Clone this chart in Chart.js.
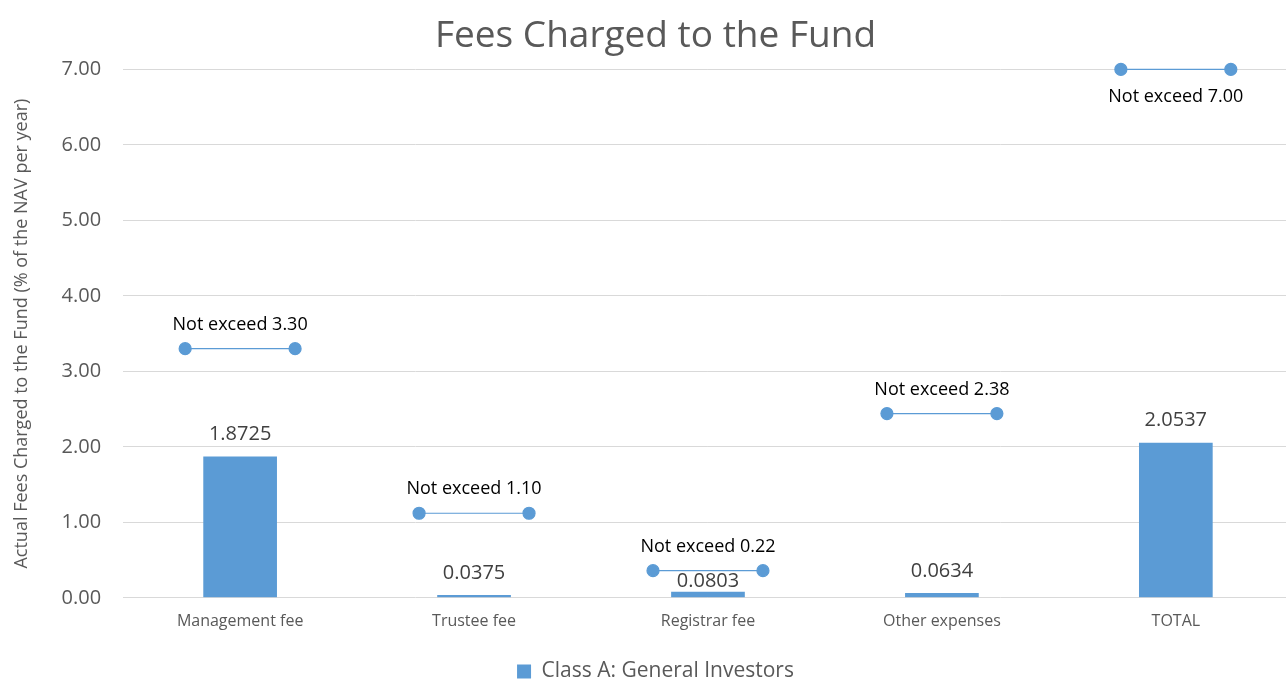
<!DOCTYPE html>
<html>
<head>
<meta charset="utf-8">
<title>Fees Charged to the Fund</title>
<script src="https://cdn.jsdelivr.net/npm/chart.js@4"></script>
<style>
    html, body { margin: 0; padding: 0; background: #fff; overflow: hidden; }
    #wrap { width: 1300px; height: 692px; }
</style>
</head>
<body>
<div id="wrap"><canvas id="feeChart"></canvas></div>
<script>
// Chart data
const categories = ['Management fee', 'Trustee fee', 'Registrar fee', 'Other expenses', 'TOTAL'];
const actualFees = [1.8725, 0.0375, 0.0803, 0.0634, 2.0537];
// where the cap markers sit in the picture, and what their labels say
const capLevels = [3.30, 1.12, 0.36, 2.44, 7.00];
const capLabels = ['3.30', '1.10', '0.22', '2.38', '7.00'];
const yTicks = [0, 1, 2, 3, 4, 5, 6, 7];

const BLUE = '#5B9BD5';
const GREY = '#595959';
const FONT = "'Open Sans', 'Noto Sans', sans-serif";

// each cap is a short horizontal segment centred on its category
const capHalf = 0.235;
const capPoints = [];
capLevels.forEach((v, i) => {
    capPoints.push({ x: i - capHalf, y: v });
    capPoints.push({ x: i + capHalf, y: v });
    capPoints.push({ x: i, y: null });
});

// value labels above bars and "Not exceed" labels at the caps
const labelPlugin = {
    id: 'labels',
    afterDatasetsDraw(chart) {
        const ctx = chart.ctx;
        const yScale = chart.scales.y;
        const xScale = chart.scales.x;
        ctx.save();
        ctx.textAlign = 'center';
        ctx.textBaseline = 'middle';

        ctx.font = '20px ' + FONT;
        ctx.fillStyle = '#404040';
        chart.getDatasetMeta(0).data.forEach((bar, i) => {
            // registrar label was pushed down under its cap line
            const off = i === 2 ? 10 : 22;
            ctx.fillText(actualFees[i].toFixed(4), bar.x, bar.y - off);
        });

        ctx.font = '18px ' + FONT;
        ctx.fillStyle = '#000';
        capLevels.forEach((v, i) => {
            const x = xScale.getPixelForValue(i);
            const y = yScale.getPixelForValue(v);
            const last = i === capLevels.length - 1;
            ctx.fillText('Not exceed ' + capLabels[i], x, last ? y + 27 : y - 24);
        });
        ctx.restore();
    }
};

const ctx = document.getElementById('feeChart').getContext('2d');
const feeChart = new Chart(ctx, {
    data: {
        labels: categories,
        datasets: [{
            type: 'bar',
            label: 'Class A: General Investors',
            data: actualFees,
            backgroundColor: BLUE,
            grouped: false,
            barPercentage: 0.63,
            categoryPercentage: 0.5,
            order: 2
        }, {
            type: 'line',
            label: 'Cap',
            data: capPoints,
            xAxisID: 'xl',
            borderColor: BLUE,
            borderWidth: 1.2,
            pointBackgroundColor: BLUE,
            pointBorderColor: BLUE,
            pointRadius: 6,
            spanGaps: false,
            clip: false,
            order: 1
        }]
    },
    options: {
        responsive: true,
        maintainAspectRatio: false,
        animation: false,
        layout: { padding: { left: 11, right: 0, top: 0, bottom: 0 } },
        plugins: {
            title: {
                display: true,
                text: 'Fees Charged to the Fund',
                color: GREY,
                font: { family: FONT, size: 37, weight: 'normal' },
                padding: { top: 14, bottom: 11 }
            },
            legend: {
                position: 'bottom',
                labels: {
                    filter: item => item.datasetIndex === 0,
                    color: GREY,
                    font: { family: FONT, size: 21 },
                    boxWidth: 14,
                    boxHeight: 14,
                    padding: 2
                }
            },
            tooltip: { enabled: false }
        },
        scales: {
            x: {
                type: 'category',
                grid: { display: false },
                border: { display: false },
                ticks: { color: GREY, font: { family: FONT, size: 16 }, padding: 6 },
                afterFit: axis => { axis.height += 22; }
            },
            xl: {
                type: 'linear',
                display: false,
                min: -0.5,
                max: categories.length - 0.5
            },
            y: {
                min: 0,
                max: 7,
                afterBuildTicks: axis => { axis.ticks = yTicks.map(v => ({ value: v })); },
                grid: { color: '#d9d9d9', drawTicks: false },
                border: { display: false },
                ticks: {
                    color: GREY,
                    font: { family: FONT, size: 20 },
                    padding: 22,
                    callback: v => v.toFixed(2)
                },
                title: {
                    display: true,
                    text: 'Actual Fees Charged to the Fund (% of the NAV per year)',
                    color: GREY,
                    font: { family: FONT, size: 18 },
                    padding: { top: 0, bottom: 7 }
                }
            }
        }
    },
    plugins: [labelPlugin]
});
</script>
</body>
</html>
